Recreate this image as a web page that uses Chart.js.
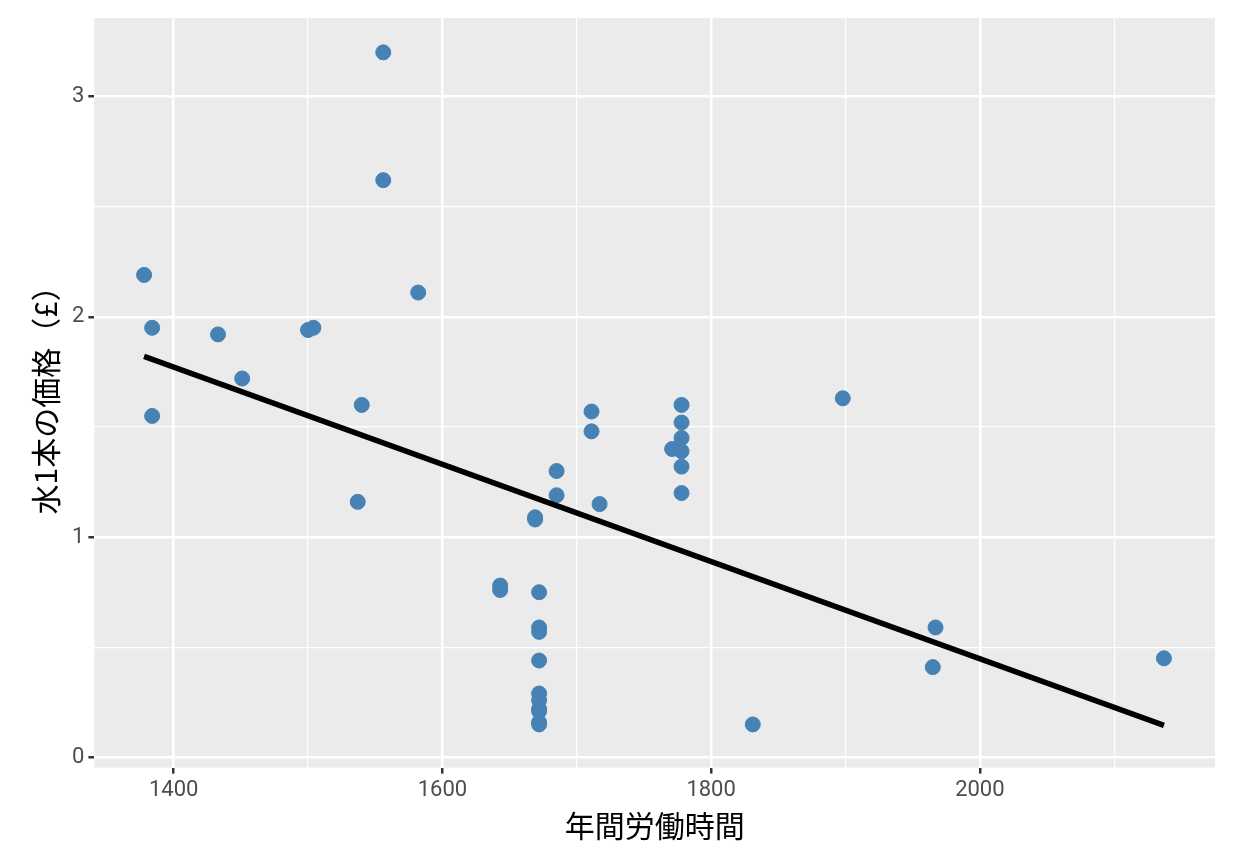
<!DOCTYPE html>
<html><head><meta charset="utf-8">
<script src="https://cdn.jsdelivr.net/npm/chart.js@4.4.1/dist/chart.umd.min.js"></script>
<style>html,body{margin:0;padding:0;background:#fff}#w{width:1234px;height:864px}</style>
</head><body><div id="w"><canvas id="c"></canvas></div>
<script>
const hours=[1378,1384,1384,1433,1451,1500,1504,1537,1540,1556,1556,1582,1643,1643,1669,1669,1672,1672,1672,1672,1672,1672,1672,1672,1672,1672,1685,1685,1711,1711,1717,1771,1778,1778,1778,1778,1778,1778,1831,1898,1965,1967,2137];
const prices=[2.19,1.95,1.55,1.92,1.72,1.94,1.95,1.16,1.60,3.20,2.62,2.11,0.78,0.76,1.09,1.08,0.75,0.59,0.57,0.44,0.29,0.26,0.22,0.21,0.16,0.15,1.30,1.19,1.57,1.48,1.15,1.40,1.60,1.52,1.45,1.39,1.32,1.20,0.15,1.63,0.41,0.59,0.45];
const fitX=[1378,2137];
const fitY=[1.82,0.146];
const xTicks=[1400,1500,1600,1700,1800,1900,2000,2100];
const yTicks=[0,0.5,1,1.5,2,2.5,3];
const bg={id:'bg',beforeDraw(c){const a=c.chartArea,x=c.ctx;x.save();x.fillStyle='#EBEBEB';x.fillRect(a.left,a.top,a.right-a.left,a.bottom-a.top);x.restore();}};
const major=(v,s)=>Math.abs(v/s-Math.round(v/s))<1e-6;
new Chart(document.getElementById('c'),{
 data:{datasets:[
  {type:'scatter',data:hours.map((h,i)=>({x:h,y:prices[i]})),backgroundColor:'#4682B4',borderColor:'#4682B4',pointRadius:7.5,pointHoverRadius:7.5,order:2},
  {type:'line',data:fitX.map((h,i)=>({x:h,y:fitY[i]})),borderColor:'#000',borderWidth:5.5,pointRadius:0,order:1}
 ]},
 options:{responsive:true,maintainAspectRatio:false,animation:false,
  layout:{padding:{top:18,right:19,left:24,bottom:16}},
  plugins:{legend:{display:false},tooltip:{enabled:false}},
  scales:{
   x:{type:'linear',min:1341,max:2175,
    afterBuildTicks:a=>{a.ticks=xTicks.map(v=>({value:v}));},
    ticks:{autoSkip:false,maxRotation:0,color:'#4D4D4D',font:{family:'Roboto',size:22},padding:4,callback:v=>major(v,200)?v:''},
    grid:{color:'#fff',lineWidth:c=>major(c.tick.value,200)?2.5:1.2,tickColor:c=>major(c.tick.value,200)?'#333':'rgba(0,0,0,0)',tickLength:6,drawTicks:true},
    border:{display:false},
    title:{display:true,text:'年間労働時間',color:'#000',font:{family:'Noto Sans CJK JP',size:30},padding:{top:0}}},
   y:{type:'linear',min:-0.046,max:3.356,
    afterBuildTicks:a=>{a.ticks=yTicks.map(v=>({value:v}));},
    ticks:{autoSkip:false,color:'#4D4D4D',font:{family:'Roboto',size:22},padding:4,callback:v=>major(v,1)?v:''},
    grid:{color:'#fff',lineWidth:c=>major(c.tick.value,1)?2.5:1.2,tickColor:c=>major(c.tick.value,1)?'#333':'rgba(0,0,0,0)',tickLength:6},
    border:{display:false},
    title:{display:true,text:'水1本の価格（£）',color:'#000',font:{family:'Noto Sans CJK JP',size:30},padding:{bottom:4}}}
  }}
 ,plugins:[bg]});
</script></body></html>
